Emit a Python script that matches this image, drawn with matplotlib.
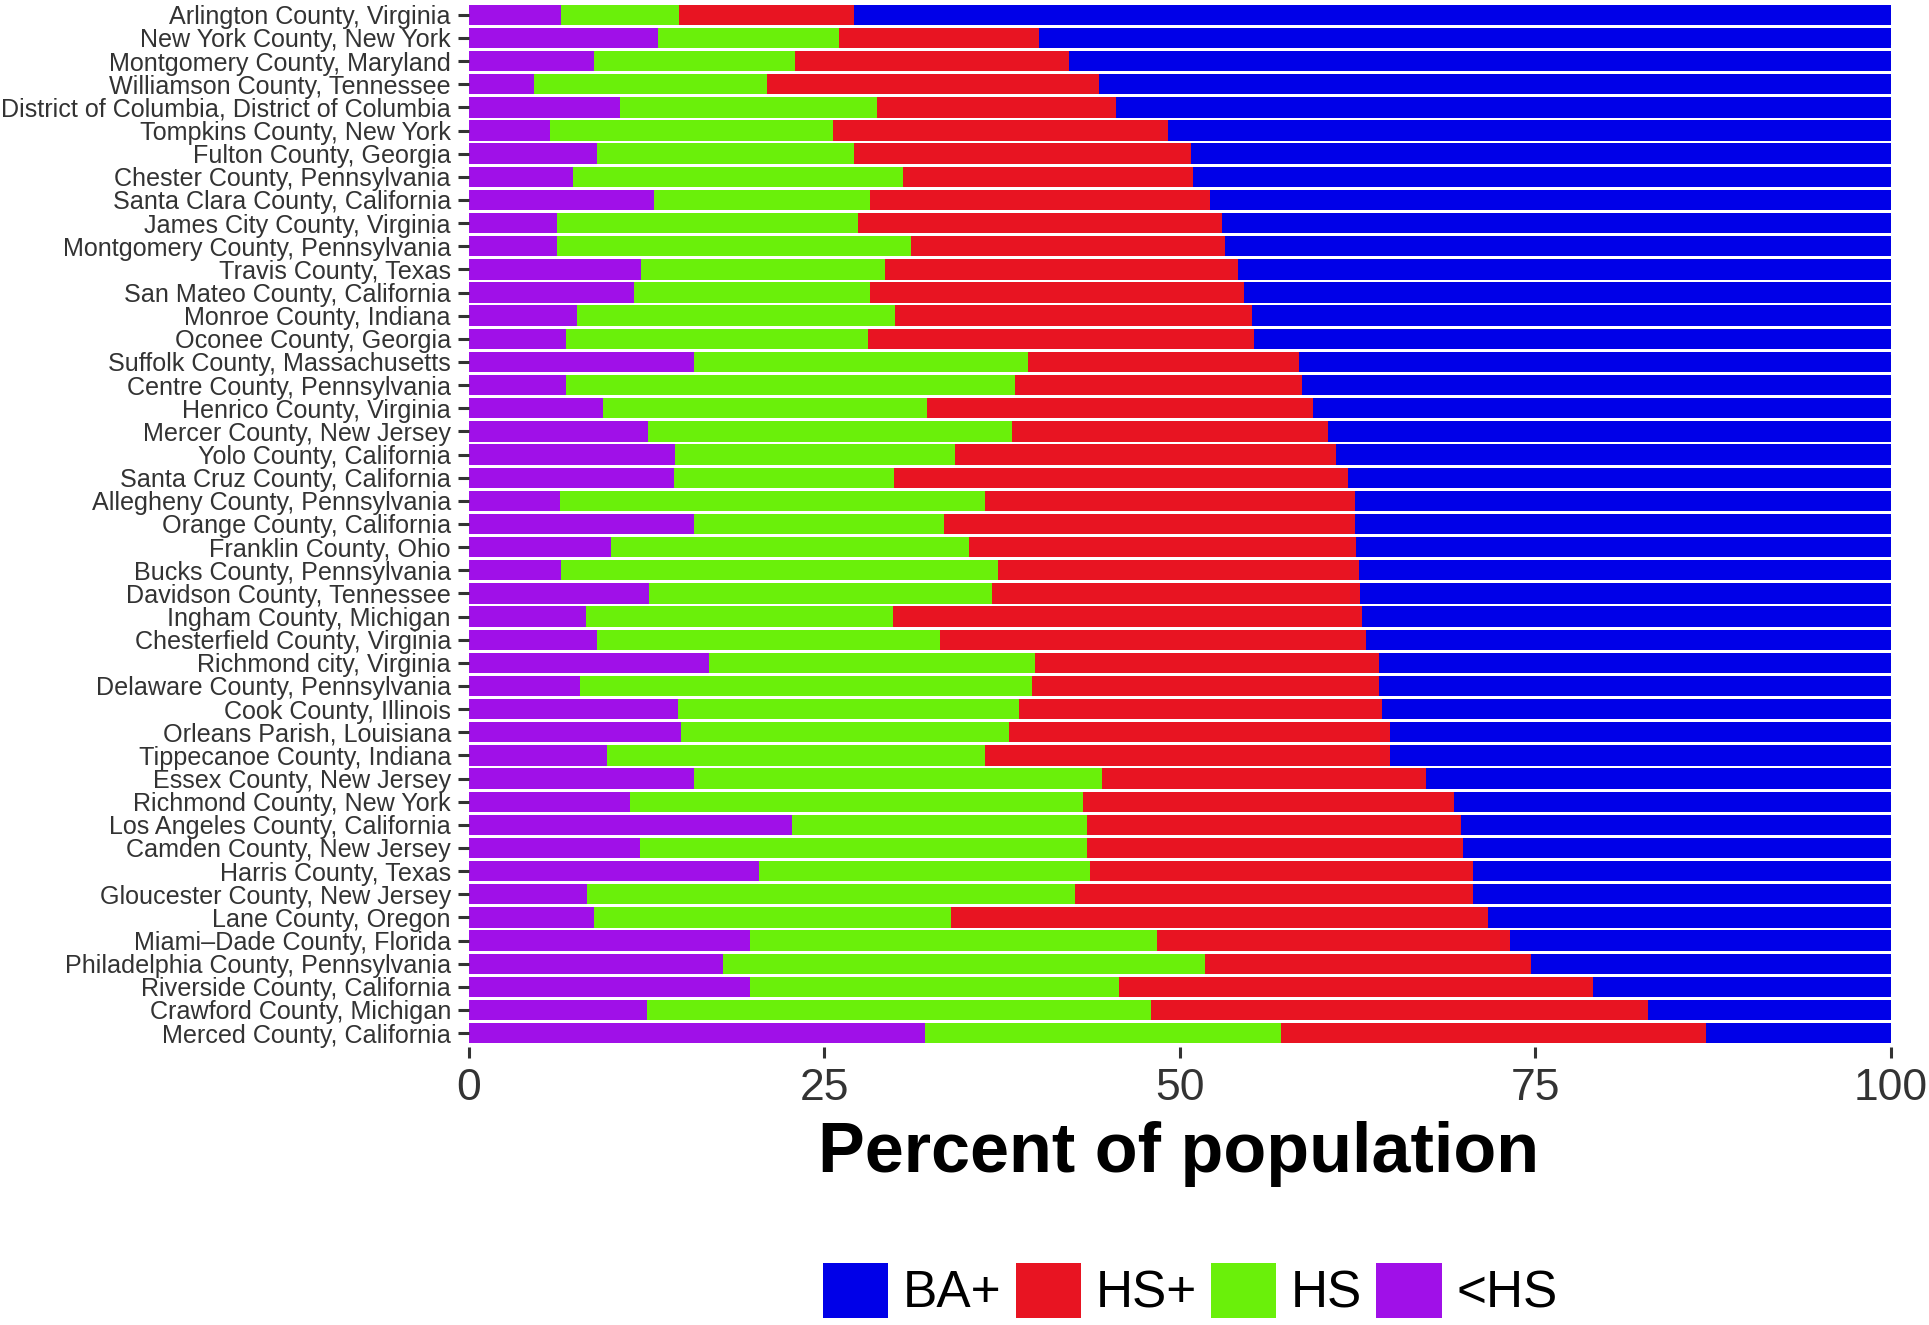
import matplotlib
matplotlib.use("Agg")
import matplotlib.pyplot as plt
from matplotlib.patches import Patch
import numpy as np

plt.rcParams['font.family'] = ['Liberation Sans', 'DejaVu Sans']

# Condados ordenados por porcentaje con BA+ (de mayor a menor)
counties = [
    "Arlington County, Virginia", "New York County, New York", "Montgomery County, Maryland",
    "Williamson County, Tennessee", "District of Columbia, District of Columbia",
    "Tompkins County, New York", "Fulton County, Georgia", "Chester County, Pennsylvania",
    "Santa Clara County, California", "James City County, Virginia",
    "Montgomery County, Pennsylvania", "Travis County, Texas", "San Mateo County, California",
    "Monroe County, Indiana", "Oconee County, Georgia", "Suffolk County, Massachusetts",
    "Centre County, Pennsylvania", "Henrico County, Virginia", "Mercer County, New Jersey",
    "Yolo County, California", "Santa Cruz County, California", "Allegheny County, Pennsylvania",
    "Orange County, California", "Franklin County, Ohio", "Bucks County, Pennsylvania",
    "Davidson County, Tennessee", "Ingham County, Michigan", "Chesterfield County, Virginia",
    "Richmond city, Virginia", "Delaware County, Pennsylvania", "Cook County, Illinois",
    "Orleans Parish, Louisiana", "Tippecanoe County, Indiana", "Essex County, New Jersey",
    "Richmond County, New York", "Los Angeles County, California", "Camden County, New Jersey",
    "Harris County, Texas", "Gloucester County, New Jersey", "Lane County, Oregon",
    "Miami\u2013Dade County, Florida", "Philadelphia County, Pennsylvania",
    "Riverside County, California", "Crawford County, Michigan", "Merced County, California",
]

lt_hs = [6.5, 13.3, 8.8, 4.6, 10.6, 5.7, 9.0, 7.3, 13.0, 6.2, 6.2, 12.1, 11.6, 7.6, 6.8,
         15.8, 6.8, 9.4, 12.6, 14.5, 14.4, 6.4, 15.8, 10.0, 6.5, 12.7, 8.2, 9.0, 16.9, 7.8,
         14.7, 14.9, 9.7, 15.8, 11.3, 22.7, 12.0, 20.4, 8.3, 8.8, 19.8, 17.9, 19.8, 12.5, 32.1]
hs = [8.3, 12.7, 14.1, 16.4, 18.1, 19.9, 18.1, 23.2, 15.2, 21.2, 24.9, 17.2, 16.6, 22.4, 21.3,
      23.5, 31.6, 22.8, 25.6, 19.7, 15.5, 29.9, 17.6, 25.2, 30.7, 24.1, 21.6, 24.1, 22.9, 31.8,
      24.0, 23.1, 26.6, 28.7, 31.9, 20.8, 31.5, 23.3, 34.3, 25.1, 28.6, 33.9, 25.9, 35.5, 25.0]
hs_plus = [12.3, 14.1, 19.3, 23.3, 16.8, 23.6, 23.7, 20.4, 23.9, 25.6, 22.1, 24.8, 26.3, 25.1,
           27.1, 19.1, 20.2, 27.2, 22.2, 26.8, 31.9, 26.0, 28.9, 27.2, 25.4, 25.9, 33.0, 30.0,
           24.2, 24.4, 25.5, 26.8, 28.5, 22.8, 26.1, 26.3, 26.4, 26.9, 28.0, 37.8, 24.8, 22.9,
           33.4, 34.9, 29.9]
ba_plus = [72.9, 59.9, 57.8, 55.7, 54.5, 50.8, 49.2, 49.1, 47.9, 47.0, 46.8, 45.9, 45.5, 44.9,
           44.8, 41.6, 41.4, 40.6, 39.6, 39.0, 38.2, 37.7, 37.7, 37.6, 37.4, 37.3, 37.2, 36.9,
           36.0, 36.0, 35.8, 35.2, 35.2, 32.7, 30.7, 30.2, 30.1, 29.4, 29.4, 28.3, 26.8, 25.3,
           20.9, 17.1, 13.0]

COLORES = {'BA+': '#0000E8', 'HS+': '#E81422', 'HS': '#6AF00A', '<HS': '#A010E8'}

fig = plt.figure(figsize=(19.29, 13.25), dpi=100)
ax = fig.add_axes([0.2431, 0.2098, 0.737, 0.7895])

y = np.arange(len(counties))
izq = np.zeros(len(counties))
for nombre, valores in [('<HS', lt_hs), ('HS', hs), ('HS+', hs_plus), ('BA+', ba_plus)]:
    ax.barh(y, valores, left=izq, height=0.88, color=COLORES[nombre], linewidth=0)
    izq = izq + np.array(valores)

ax.set_ylim(len(counties) - 0.4, -0.6)
ax.set_xlim(0, 100)
ax.set_yticks(y)
ax.set_yticklabels(counties, fontsize=18.1, color='#333333')
ax.set_xticks([0, 25, 50, 75, 100])
ax.set_xticklabels(['0', '25', '50', '75', '100'], fontsize=32, color='#333333')
ax.tick_params(axis='y', length=8, width=2.2, color='#333333', pad=5)
ax.tick_params(axis='x', length=8, width=2.2, color='#333333', pad=7)
for s in ax.spines.values():
    s.set_visible(False)

fig.text(0.611, 0.129, "Percent of population", fontsize=50.5, fontweight='bold',
         ha='center', va='center')

handles = [Patch(facecolor=COLORES[k], edgecolor='none', label=k) for k in ['BA+', 'HS+', 'HS', '<HS']]
fig.legend(handles=handles, loc='center', bbox_to_anchor=(0.617, 0.026), ncol=4,
           frameon=False, fontsize=37, handlelength=1.27, handleheight=1.27,
           handletextpad=0.28, columnspacing=0.28, borderaxespad=0)

fig.savefig("out.png", dpi=100)
plt.close(fig)
